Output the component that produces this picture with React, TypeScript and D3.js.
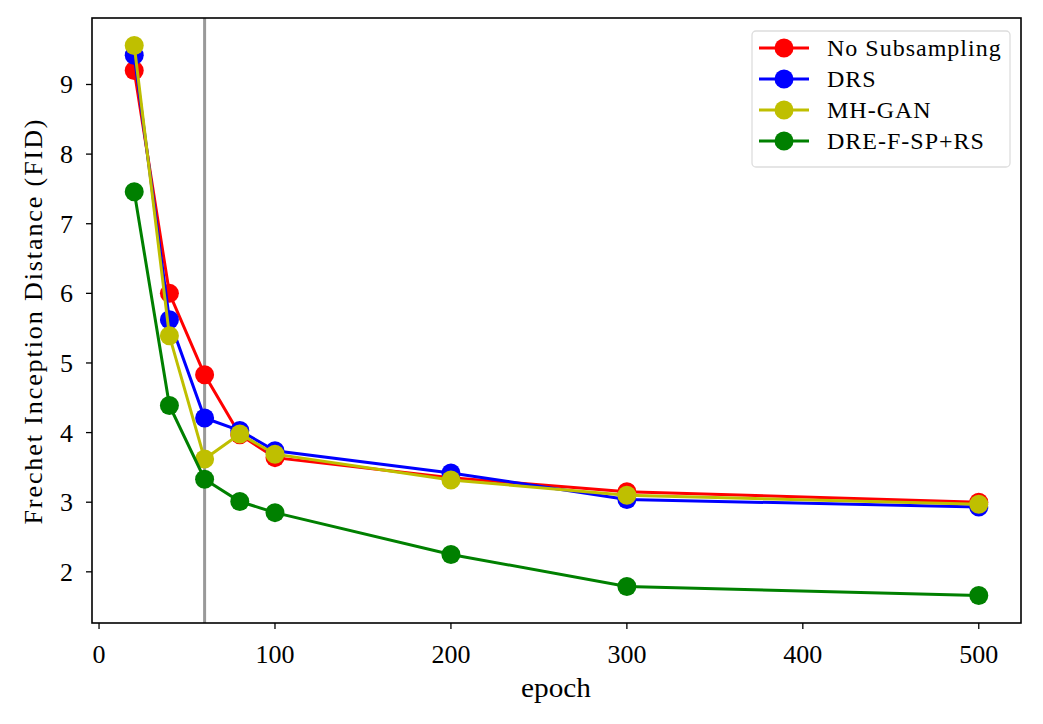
import React from "react";
import * as d3 from "d3";

const epochs = [20, 40, 60, 80, 100, 200, 300, 500];
const noSubsampling = [9.2, 6.0, 4.83, 3.97, 3.64, 3.35, 3.15, 3.0];
const drs = [9.42, 5.62, 4.21, 4.03, 3.74, 3.42, 3.04, 2.93];
const mhGan = [9.56, 5.39, 3.62, 3.98, 3.69, 3.32, 3.1, 2.97];
const dreFSpRs = [7.46, 4.39, 3.33, 3.01, 2.85, 2.25, 1.79, 1.66];
const seriesNames = ["No Subsampling", "DRS", "MH-GAN", "DRE-F-SP+RS"];
const seriesColors = ["#ff0000", "#0000ff", "#bfbf00", "#008000"];
const xTicks = [0, 100, 200, 300, 400, 500];
const yTicks = [2, 3, 4, 5, 6, 7, 8, 9];
const vlineEpoch = 60;

const W = 1043, H = 724;
const L = 92, R = 1021, T = 18, B = 623;
const font = "'Liberation Serif', 'DejaVu Serif', serif";

export default function App() {
  const all = [noSubsampling, drs, mhGan, dreFSpRs];
  const xMin = d3.min(epochs)!, xMax = d3.max(epochs)!;
  const xPad = (xMax - xMin) * 0.05;
  const yVals = all.flat();
  const yMin = d3.min(yVals)!, yMax = d3.max(yVals)!;
  const yPad = (yMax - yMin) * 0.05;
  const x = d3.scaleLinear().domain([xMin - xPad, xMax + xPad]).range([L, R]);
  const y = d3.scaleLinear().domain([yMin - yPad, yMax + yPad]).range([B, T]);
  const line = d3.line<[number, number]>().x(d => x(d[0])).y(d => y(d[1]));

  return (
    <svg width={W} height={H} style={{ position: "absolute", left: 0, top: 0, background: "#fff" }} fontFamily={font}>
      <rect x={0} y={0} width={W} height={H} fill="#fff" />
      <line x1={x(vlineEpoch)} x2={x(vlineEpoch)} y1={T} y2={B} stroke="#999" strokeWidth={3} />
      {all.map((vals, i) => {
        const pts = epochs.map((e, j) => [e, vals[j]] as [number, number]);
        return (
          <g key={i}>
            <path d={line(pts)!} fill="none" stroke={seriesColors[i]} strokeWidth={3} />
            {pts.map((p, j) => (
              <circle key={j} cx={x(p[0])} cy={y(p[1])} r={9.5} fill={seriesColors[i]} />
            ))}
          </g>
        );
      })}
      <rect x={L} y={T} width={R - L} height={B - T} fill="none" stroke="#000" strokeWidth={1.6} />
      {xTicks.map(t => (
        <g key={t}>
          <line x1={x(t)} x2={x(t)} y1={B} y2={B + 6} stroke="#000" strokeWidth={1.3} />
          <text x={x(t)} y={663} textAnchor="middle" fontSize={26}>{t}</text>
        </g>
      ))}
      {yTicks.map(t => (
        <g key={t}>
          <line x1={L - 6} x2={L} y1={y(t)} y2={y(t)} stroke="#000" strokeWidth={1.3} />
          <text x={73} y={y(t) + 9} textAnchor="end" fontSize={26}>{t}</text>
        </g>
      ))}
      <text x={556} y={697} textAnchor="middle" fontSize={27} textLength={70} lengthAdjust="spacingAndGlyphs">epoch</text>
      <text transform={`translate(42, 322) rotate(-90)`} textAnchor="middle" fontSize={26} textLength={405} lengthAdjust="spacing">Frechet Inception Distance (FID)</text>
      <g>
        <rect x={752} y={31} width={258} height={136} rx={4} fill="#fff" fillOpacity={0.8} stroke="#ddd" strokeWidth={1.3} />
        {seriesNames.map((n, i) => {
          const ly = 48 + i * 31;
          return (
            <g key={n}>
              <line x1={759} x2={809} y1={ly} y2={ly} stroke={seriesColors[i]} strokeWidth={3} />
              <circle cx={784} cy={ly} r={9.5} fill={seriesColors[i]} />
              <text x={827} y={ly + 8} fontSize={24} letterSpacing={1}>{n}</text>
            </g>
          );
        })}
      </g>
    </svg>
  );
}
